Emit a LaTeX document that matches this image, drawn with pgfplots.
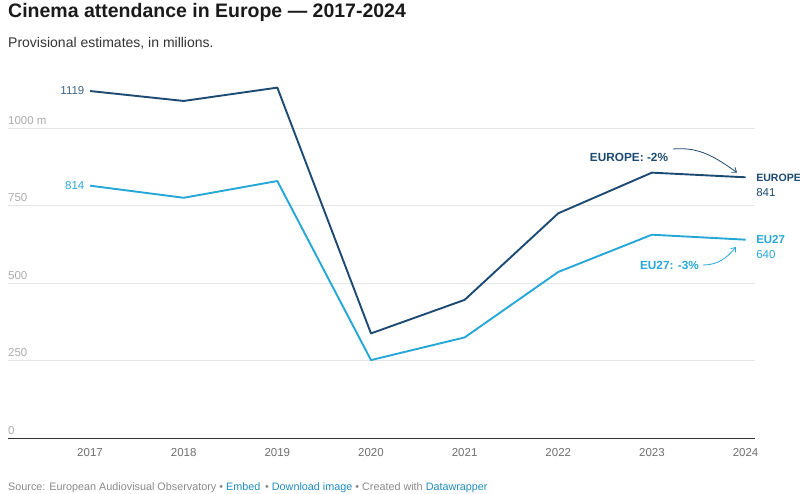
\documentclass[border=0pt]{standalone}
\usepackage{pgfplots}
\pgfplotsset{compat=1.18}
\usepackage{fontspec}
\setmainfont{Liberation Sans}
\usetikzlibrary{arrows.meta}
\definecolor{eur}{HTML}{1D4A72}
\definecolor{eu}{HTML}{25A7D7}
\definecolor{gridc}{HTML}{E6E6E6}
\definecolor{tickc}{HTML}{ABABAB}
\definecolor{xtc}{HTML}{6E6E6E}
\definecolor{srcc}{HTML}{8A8A8A}
\definecolor{linkc}{HTML}{1E8CC0}
\definecolor{titc}{HTML}{1A1A1A}
\definecolor{subc}{HTML}{333333}
\pgfplotstableread{
year europe eu
2017 1119 814
2018 1087 775
2019 1130 829
2020 338 252
2021 446 325
2022 725 536
2023 856 656
2024 841 640
}\datatab
\begin{document}
\begin{tikzpicture}[x=1bp,y=1bp]
\path[use as bounding box] (0,0) rectangle (800,494);
\node[anchor=base west, inner sep=0, text=titc, font=\fontsize{19.5bp}{21bp}\selectfont\bfseries] at (8,476.7) {Cinema attendance in Europe — 2017-2024};
\node[anchor=base west, inner sep=0, text=subc, font=\fontsize{14bp}{16bp}\selectfont] at (8,446.7) {Provisional estimates, in millions.};
\node[anchor=base west, inner sep=0, text=srcc, font=\fontsize{10.8bp}{12bp}\selectfont] at (8,3.5) {Source: European Audiovisual Observatory • \textcolor{linkc}{Embed} \,• \textcolor{linkc}{Download image} • Created with \textcolor{linkc}{Datawrapper}};
\begin{axis}[
  at={(8bp,55.7bp)}, anchor=south west, scale only axis,
  width=747bp, height=372.4bp,
  xmin=2016.124, xmax=2024.101, ymin=0, ymax=1200,
  axis x line=bottom,
  y axis line style={draw=none},
  x axis line style={-, draw=black!80, line width=1.2bp},
  major tick length=0pt,
  xtick={2017,2018,2019,2020,2021,2022,2023,2024},
  xticklabels={2017,2018,2019,2020,2021,2022,2023,2024},
  xticklabel style={anchor=center, yshift=-14bp, inner sep=0pt, text=xtc, font=\fontsize{11.5bp}{13bp}\selectfont},
  ytick={0,250,500,750,1000},
  yticklabels={0,250,500,750,1000 m},
  yticklabel pos=left,
  yticklabel style={anchor=south west, inner sep=0pt, yshift=3.5bp, text=tickc, font=\fontsize{11.5bp}{13bp}\selectfont},
  ymajorgrids, grid style={draw=gridc, line width=0.9bp},
  clip=false,
]
\addplot[eur, line width=1.9bp, line join=round] table[x=year, y=europe] {\datatab};
\addplot[eu, line width=1.9bp, line join=round] table[x=year, y=eu] {\datatab};
\node[anchor=east, inner sep=0, xshift=-5.5bp, text=eur!85, font=\fontsize{11.5bp}{13bp}\selectfont] at (axis cs:2017,1119) {1119};
\node[anchor=east, inner sep=0, xshift=-5.5bp, text=eu, font=\fontsize{11.5bp}{13bp}\selectfont] at (axis cs:2017,814) {814};
\node[anchor=west, inner sep=0, xshift=10.5bp, yshift=-1bp, text=eur, font=\fontsize{10.6bp}{13bp}\selectfont\bfseries] at (axis cs:2024,841) {EUROPE};
\node[anchor=west, inner sep=0, xshift=10.5bp, yshift=-15.5bp, text=eur, font=\fontsize{11.5bp}{13bp}\selectfont] at (axis cs:2024,841) {841};
\node[anchor=west, inner sep=0, xshift=10.5bp, yshift=0bp, text=eu, font=\fontsize{11.5bp}{13bp}\selectfont\bfseries] at (axis cs:2024,640) {EU27};
\node[anchor=west, inner sep=0, xshift=10.5bp, yshift=-15bp, text=eu, font=\fontsize{11.5bp}{13bp}\selectfont] at (axis cs:2024,640) {640};
\end{axis}
\node[inner sep=0, text=eur, font=\fontsize{11.8bp}{13bp}\selectfont\bfseries] at (629,337) {EUROPE: -2\%};
\draw[eur, line width=0.8bp, -{Straight Barb[length=4bp,width=6bp]}] (673,345) to[out=5,in=145] (737,321.5);
\node[inner sep=0, text=eu, font=\fontsize{11.8bp}{13bp}\selectfont\bfseries] at (669.5,229) {EU27: -3\%};
\draw[eu, line width=0.8bp, -{Straight Barb[length=4bp,width=6bp]}] (703,229) to[out=0,in=-130] (736,247);
\end{tikzpicture}
\end{document}
